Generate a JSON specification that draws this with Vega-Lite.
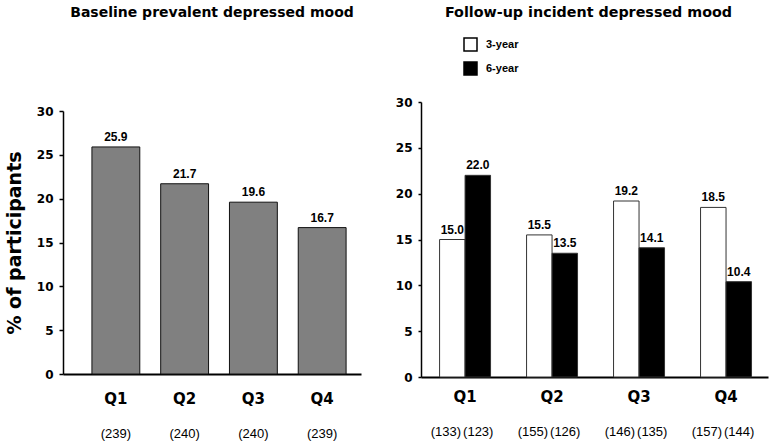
{
  "$schema": "https://vega.github.io/schema/vega-lite/v6.json",
  "background": "white",
  "padding": 5,
  "spacing": 34,
  "resolve": {"legend": {"fill": "independent"}},
  "config": {
    "view": {"stroke": null},
    "font": "DejaVu Sans",
    "axis": {"grid": false, "domainColor": "black", "tickColor": "black", "labelColor": "black", "titleColor": "black"}
  },
  "hconcat": [
    {
      "width": 298,
      "height": 272,
      "title": {"text": "Baseline prevalent depressed mood", "font": "DejaVu Sans", "fontSize": 14, "fontWeight": "bold", "anchor": "middle", "offset": 82, "color": "black"},
      "data": {"values": [
        {"q": "Q1", "pct": 25.9, "n": "(239)"},
        {"q": "Q2", "pct": 21.7, "n": "(240)"},
        {"q": "Q3", "pct": 19.6, "n": "(240)"},
        {"q": "Q4", "pct": 16.7, "n": "(239)"}
      ]},
      "encoding": {
        "x": {"field": "q", "type": "nominal", "sort": null,
          "scale": {"paddingInner": 0.304, "paddingOuter": 0.3186, "align": 0.66},
          "axis": {"title": null, "ticks": false, "domainWidth": 2, "labelAngle": 0, "labelFont": "DejaVu Sans", "labelFontWeight": "bold", "labelFontSize": 15, "labelPadding": 17}}
      },
      "layer": [
        {
          "mark": {"type": "bar", "fill": "#808080", "stroke": "#111111", "strokeWidth": 1},
          "encoding": {
            "y": {"field": "pct", "type": "quantitative", "scale": {"domain": [0, 30], "nice": false, "range": [272, 9]},
              "axis": {"values": [0, 5, 10, 15, 20, 25, 30], "tickSize": 4, "domainWidth": 1.5, "tickWidth": 1.5, "labelPadding": 6, "labelFont": "DejaVu Sans", "labelFontWeight": "bold", "labelFontSize": 12,
                "title": "% of participants", "titleFont": "DejaVu Sans", "titleFontSize": 19, "titleFontWeight": "bold", "titlePadding": 12}}
          }
        },
        {
          "mark": {"type": "text", "baseline": "bottom", "dy": -3, "font": "Liberation Sans", "fontWeight": "bold", "fontSize": 12, "color": "black"},
          "encoding": {
            "y": {"field": "pct", "type": "quantitative"},
            "text": {"field": "pct", "type": "quantitative", "format": ".1f"}
          }
        },
        {
          "mark": {"type": "text", "baseline": "middle", "dy": 60, "font": "Liberation Sans", "fontSize": 13, "color": "black"},
          "encoding": {
            "y": {"datum": 0},
            "text": {"field": "n", "type": "nominal"}
          }
        }
      ]
    },
    {
      "width": 347,
      "height": 275,
      "title": {"text": "Follow-up incident depressed mood", "font": "DejaVu Sans", "fontSize": 14.3, "fontWeight": "bold", "anchor": "middle", "offset": 17, "dx": -6, "color": "black"},
      "data": {"values": [
        {"q": "Q1", "period": "3-year", "pct": 15.0, "n": "(133)"},
        {"q": "Q1", "period": "6-year", "pct": 22.0, "n": "(123)"},
        {"q": "Q2", "period": "3-year", "pct": 15.5, "n": "(155)"},
        {"q": "Q2", "period": "6-year", "pct": 13.5, "n": "(126)"},
        {"q": "Q3", "period": "3-year", "pct": 19.2, "n": "(146)"},
        {"q": "Q3", "period": "6-year", "pct": 14.1, "n": "(135)"},
        {"q": "Q4", "period": "3-year", "pct": 18.5, "n": "(157)"},
        {"q": "Q4", "period": "6-year", "pct": 10.4, "n": "(144)"}
      ]},
      "encoding": {
        "x": {"field": "q", "type": "nominal", "sort": null,
          "scale": {"paddingInner": 0.414, "paddingOuter": 0.2015, "align": 0.53},
          "axis": {"title": null, "ticks": false, "domainWidth": 2, "labelAngle": 0, "labelFont": "DejaVu Sans", "labelFontWeight": "bold", "labelFontSize": 15, "labelPadding": 12}}
      },
      "layer": [
        {
          "mark": {"type": "bar", "stroke": "#333333", "strokeWidth": 1},
          "encoding": {
            "xOffset": {"field": "period", "type": "nominal", "scale": {"paddingInner": 0, "paddingOuter": 0}},
            "y": {"field": "pct", "type": "quantitative", "scale": {"domain": [0, 30], "nice": false},
              "axis": {"values": [0, 5, 10, 15, 20, 25, 30], "tickSize": 3, "domainWidth": 1.5, "tickWidth": 1.5, "labelPadding": 6, "labelFont": "DejaVu Sans", "labelFontWeight": "bold", "labelFontSize": 12, "title": null}},
            "fill": {"field": "period", "type": "nominal",
              "scale": {"domain": ["3-year", "6-year"], "range": ["white", "black"]},
              "legend": {"orient": "none", "legendX": 42, "legendY": -65, "direction": "vertical", "title": null, "padding": 0,
                "symbolType": "square", "symbolSize": 169, "symbolStrokeColor": "black", "symbolStrokeWidth": 1.5,
                "labelFont": "Liberation Sans", "labelFontWeight": "bold", "labelFontSize": 11, "labelColor": "black", "labelOffset": 8, "rowPadding": 5}}
          }
        },
        {
          "mark": {"type": "text", "baseline": "bottom", "dy": -3, "font": "Liberation Sans", "fontWeight": "bold", "fontSize": 12, "color": "black"},
          "encoding": {
            "xOffset": {"field": "period", "type": "nominal"},
            "y": {"field": "pct", "type": "quantitative"},
            "text": {"field": "pct", "type": "quantitative", "format": ".1f"}
          }
        },
        {
          "transform": [{"filter": "datum.period === '3-year'"}],
          "mark": {"type": "text", "baseline": "middle", "align": "right", "dx": -4, "dy": 55, "font": "Liberation Sans", "fontSize": 13, "color": "black"},
          "encoding": {
            "y": {"datum": 0},
            "text": {"field": "n", "type": "nominal"}
          }
        },
        {
          "transform": [{"filter": "datum.period === '6-year'"}],
          "mark": {"type": "text", "baseline": "middle", "align": "left", "dx": -2, "dy": 55, "font": "Liberation Sans", "fontSize": 13, "color": "black"},
          "encoding": {
            "y": {"datum": 0},
            "text": {"field": "n", "type": "nominal"}
          }
        }
      ]
    }
  ]
}
